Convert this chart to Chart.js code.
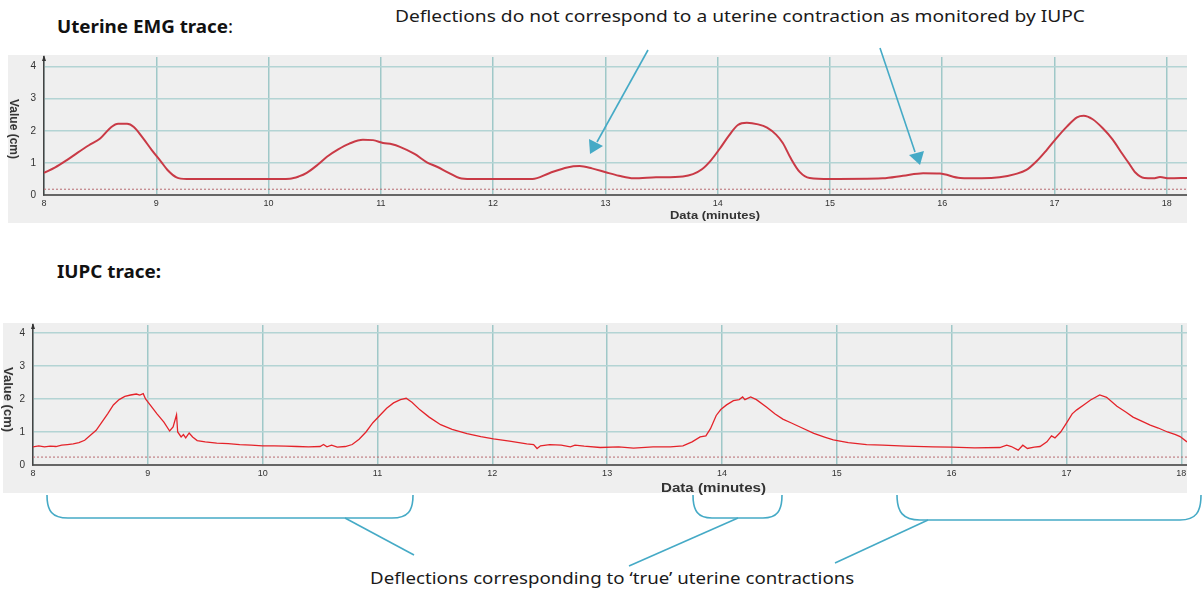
<!DOCTYPE html>
<html lang="en">
<head>
    <meta charset="UTF-8">
    <title>Uterine EMG vs IUPC</title>
    <script src="https://cdn.jsdelivr.net/npm/chart.js"></script>
    <style>
        body { margin: 0; background: #fff; width: 1203px; height: 592px; position: relative; overflow: hidden; font-family: "Noto Sans", sans-serif; }
        .panel { position: absolute; background: #efefef; }
        .txt { position: absolute; white-space: nowrap; transform-origin: left center; color: #111; }
        .heading { font-size: 18px; font-weight: bold; }
        .note { font-size: 17px; color: #1a1a1a; }
        .axis-title { position: absolute; white-space: nowrap; font-family: "Liberation Sans", Arial, sans-serif; font-weight: bold; color: #333; }
        svg.overlay { position: absolute; left: 0; top: 0; pointer-events: none; }
    </style>
</head>
<body>
    <!-- headings -->
    <div class="txt heading" data-fit="176" style="left:57px; top:14px;">Uterine EMG trace<span style="font-weight:normal">:</span></div>
    <div class="txt heading" data-fit="104" style="left:57px; top:259px;">IUPC trace:</div>
    <div class="txt note" data-fit="690" style="left:395px; top:4px;">Deflections do not correspond to a uterine contraction as monitored by IUPC</div>
    <div class="txt note" data-fit="484" style="left:370px; top:566px;">Deflections corresponding to ‘true’ uterine contractions</div>

    <!-- EMG chart -->
    <div class="panel" style="left:8px; top:55px; width:1179px; height:168px;">
        <canvas id="emgChart" width="1179" height="168"></canvas>
    </div>
    <div class="axis-title" style="font-size:12px; left:-16px; top:122px; transform:rotate(90deg);">Value (cm)</div>
    <div class="axis-title" data-fit="90" style="font-size:11px; left:670px; top:209px;">Data (minutes)</div>

    <!-- IUPC chart -->
    <div class="panel" style="left:3px; top:323px; width:1184px; height:170px;">
        <canvas id="iupcChart" width="1184" height="170"></canvas>
    </div>
    <div class="axis-title" style="font-size:13px; left:-24px; top:392px; transform:rotate(90deg);">Value (cm)</div>
    <div class="axis-title" data-fit="105" style="font-size:12px; left:661px; top:481px;">Data (minutes)</div>

    <!-- callouts -->
    <svg class="overlay" width="1203" height="592">
        <g stroke="#45aac6" stroke-width="1.6" fill="none">
            <line x1="648" y1="50" x2="597" y2="142"/>
            <line x1="880" y1="48" x2="915" y2="152"/>
            <path d="M47,495 C47,511 52,518 68,518 L392,518 C408,518 413,511 413,495"/>
            <path d="M693,495 C693,511 698,518 712,518 L763,518 C777,518 782,511 782,495"/>
            <path d="M897,495 C897,512 903,520 920,520 L1180,520 C1196,520 1201,512 1201,495"/>
            <line x1="345" y1="518" x2="414" y2="555"/>
            <line x1="738" y1="518" x2="629" y2="566"/>
            <line x1="928" y1="520" x2="835" y2="563"/>
        </g>
        <g fill="#45aac6">
            <polygon points="590,154 589,139 603,146"/>
            <polygon points="920,165 909,155 924,151"/>
        </g>
    </svg>

    <script>
        // x axis ticks (minutes) and y axis ticks (cm)
        const minuteTicks = [8, 9, 10, 11, 12, 13, 14, 15, 16, 17, 18];
        const valueTicks = [0, 1, 2, 3, 4];
        const baselineLevel = [0.18, 0.24]; // dotted reference line, EMG / IUPC

        // Uterine EMG trace
        const emgMinutes = [8.0, 8.1, 8.2, 8.3, 8.4, 8.5, 8.6, 8.66, 8.74, 8.8, 8.88, 8.96, 9.04, 9.1, 9.18, 9.27, 9.6, 10.0, 10.19, 10.27,
            10.34, 10.44, 10.52, 10.62, 10.72, 10.84, 10.93, 11.02, 11.1, 11.17, 11.3, 11.41, 11.5, 11.6, 11.7, 11.8, 12.0, 12.35, 12.5, 12.66,
            12.77, 12.88, 13.01, 13.12, 13.25, 13.45, 13.69, 13.78, 13.86, 13.94, 14.02, 14.1, 14.18, 14.26, 14.36, 14.44, 14.52, 14.58, 14.65, 14.73,
            14.82, 15.0, 15.47, 15.65, 15.83, 15.98, 16.16, 16.35, 16.51, 16.65, 16.75, 16.84, 16.93, 17.02, 17.11, 17.2, 17.26, 17.34, 17.43, 17.52,
            17.6, 17.66, 17.72, 17.8, 17.88, 17.94, 18.02, 18.18];
        const emgValue = [0.69, 0.86, 1.08, 1.32, 1.55, 1.76, 2.12, 2.22, 2.22, 2.12, 1.78, 1.40, 1.05, 0.78, 0.55, 0.5, 0.5, 0.5, 0.51, 0.58,
            0.69, 0.95, 1.19, 1.42, 1.6, 1.72, 1.71, 1.62, 1.58, 1.5, 1.28, 1.02, 0.88, 0.7, 0.53, 0.5, 0.5, 0.5, 0.68, 0.86,
            0.9, 0.83, 0.7, 0.6, 0.52, 0.55, 0.58, 0.65, 0.8, 1.08, 1.45, 1.85, 2.18, 2.25, 2.2, 2.1, 1.88, 1.62, 1.15, 0.72,
            0.53, 0.5, 0.52, 0.6, 0.68, 0.67, 0.53, 0.52, 0.55, 0.65, 0.78, 1.05, 1.4, 1.78, 2.13, 2.42, 2.47, 2.36, 2.08, 1.72,
            1.3, 1.0, 0.7, 0.53, 0.52, 0.56, 0.52, 0.53];

        // IUPC trace
        const iupcMinutes = [8.0, 8.05, 8.1, 8.15, 8.2, 8.25, 8.3, 8.35, 8.4, 8.45, 8.5, 8.55, 8.6, 8.65, 8.7, 8.75, 8.8, 8.85, 8.9, 8.93,
            8.96, 8.98, 9.02, 9.08, 9.14, 9.19, 9.22, 9.25, 9.26, 9.29, 9.31, 9.33, 9.36, 9.39, 9.43, 9.5, 9.6, 9.7, 9.8, 9.9,
            10.0, 10.1, 10.2, 10.3, 10.4, 10.5, 10.53, 10.56, 10.6, 10.65, 10.72, 10.78, 10.84, 10.9, 10.96, 11.02, 11.08, 11.14, 11.2, 11.25,
            11.3, 11.37, 11.45, 11.55, 11.65, 11.78, 11.9, 12.01, 12.15, 12.3, 12.36, 12.39, 12.42, 12.5, 12.6, 12.68, 12.72, 12.8, 12.94, 13.1,
            13.23, 13.4, 13.55, 13.66, 13.74, 13.81, 13.86, 13.9, 13.95, 13.99, 14.04, 14.1, 14.15, 14.18, 14.2, 14.25, 14.3, 14.39, 14.46, 14.53,
            14.6, 14.68, 14.8, 14.9, 14.97, 15.1, 15.26, 15.4, 15.6, 15.84, 16.0, 16.2, 16.42, 16.48, 16.52, 16.58, 16.62, 16.66, 16.72, 16.77,
            16.83, 16.87, 16.9, 16.95, 17.0, 17.05, 17.09, 17.15, 17.21, 17.29, 17.35, 17.44, 17.52, 17.58, 17.66, 17.73, 17.8, 17.88, 17.95, 17.99,
            18.05];
        const iupcValue = [0.55, 0.58, 0.55, 0.57, 0.56, 0.6, 0.62, 0.64, 0.68, 0.75, 0.9, 1.05, 1.3, 1.55, 1.82, 1.98, 2.08, 2.12, 2.15, 2.12,
            2.16, 2.0, 1.82, 1.55, 1.3, 1.03, 1.15, 1.52, 1.0, 0.85, 0.92, 0.82, 0.97, 0.85, 0.74, 0.7, 0.66, 0.65, 0.62, 0.6,
            0.58, 0.58, 0.57, 0.56, 0.55, 0.56, 0.62, 0.55, 0.6, 0.54, 0.56, 0.62, 0.78, 1.0, 1.28, 1.5, 1.72, 1.88, 1.98, 2.02,
            1.9, 1.67, 1.45, 1.22, 1.08, 0.95, 0.86, 0.79, 0.72, 0.64, 0.62, 0.5, 0.58, 0.62, 0.6, 0.55, 0.6, 0.57, 0.53, 0.55,
            0.51, 0.55, 0.55, 0.58, 0.7, 0.85, 0.88, 1.1, 1.5, 1.68, 1.82, 1.95, 1.98, 2.06, 1.98, 2.06, 1.98, 1.75, 1.55, 1.39,
            1.28, 1.15, 0.96, 0.84, 0.76, 0.68, 0.62, 0.6, 0.57, 0.55, 0.54, 0.52, 0.53, 0.6, 0.56, 0.45, 0.6, 0.5, 0.54, 0.56,
            0.7, 0.88, 0.82, 1.0, 1.27, 1.55, 1.67, 1.82, 1.97, 2.12, 2.05, 1.78, 1.6, 1.45, 1.32, 1.21, 1.12, 1.0, 0.92, 0.86,
            0.7];

        // small arrow at the top of the value axis
        const axisArrow = {
            id: 'axisArrow',
            afterDraw(chart) {
                const ctx = chart.ctx, a = chart.chartArea;
                ctx.save();
                ctx.fillStyle = '#333';
                ctx.beginPath();
                ctx.moveTo(a.left, a.top - 2);
                ctx.lineTo(a.left - 2, a.top + 4);
                ctx.lineTo(a.left + 2, a.top + 4);
                ctx.closePath();
                ctx.fill();
                ctx.restore();
            }
        };

        // no automatic label padding: the plot area must sit where the reference has it
        function noPad(s) {
            s.paddingTop = 0; s.paddingBottom = 0; s.paddingLeft = 0; s.paddingRight = 0;
        }

        function traceChart(id, xs, ys, cfg) {
            const pts = xs.map((x, i) => ({ x: x, y: ys[i] }));
            const base = [{ x: 8, y: cfg.base }, { x: cfg.xMax, y: cfg.base }];
            return new Chart(document.getElementById(id), {
                type: 'line',
                data: {
                    datasets: [{
                        data: pts,
                        borderColor: cfg.color,
                        borderWidth: cfg.width,
                        pointRadius: 0,
                        tension: cfg.smooth ? 0.4 : 0,
                        cubicInterpolationMode: cfg.smooth ? 'monotone' : 'default'
                    }, {
                        data: base,
                        borderColor: '#b86a70',
                        borderWidth: 1,
                        borderDash: [2, 2],
                        pointRadius: 0
                    }]
                },
                options: {
                    responsive: false,
                    animation: false,
                    layout: { padding: { top: 2, right: 0, left: 0, bottom: 0 } },
                    plugins: { legend: { display: false }, tooltip: { enabled: false } },
                    scales: {
                        x: {
                            type: 'linear',
                            min: 8,
                            max: cfg.xMax,
                            afterBuildTicks: s => { s.ticks = minuteTicks.map(v => ({ value: v })); },
                            afterFit: s => { s.height = 28; noPad(s); },
                            grid: { color: '#9fc8c8', lineWidth: 1.5, drawTicks: false },
                            border: { color: '#666', width: 2 },
                            ticks: { padding: 3, color: '#333', font: { family: 'Liberation Sans', size: 9 }, maxRotation: 0 }
                        },
                        y: {
                            min: 0,
                            max: cfg.yMax,
                            afterBuildTicks: s => { s.ticks = valueTicks.map(v => ({ value: v })); },
                            afterFit: s => { s.width = cfg.yWidth; noPad(s); },
                            grid: { color: '#b3d4d4', lineWidth: 1.5, drawTicks: false },
                            border: { color: '#444', width: 1.5 },
                            ticks: { padding: 8, color: '#333', font: { family: 'Liberation Sans', size: 10 } }
                        }
                    }
                },
                plugins: [axisArrow]
            });
        }

        traceChart('emgChart', emgMinutes, emgValue, {
            xMax: 18.18, yMax: 4.3, yWidth: 36, base: baselineLevel[0],
            color: '#c93a46', width: 2, smooth: true
        });
        traceChart('iupcChart', iupcMinutes, iupcValue, {
            xMax: 18.05, yMax: 4.24, yWidth: 30, base: baselineLevel[1],
            color: '#e4232a', width: 1.3, smooth: false
        });

        // squeeze text blocks to the widths they take in the reference
        document.querySelectorAll('[data-fit]').forEach(el => {
            const w = el.getBoundingClientRect().width;
            const target = parseFloat(el.dataset.fit);
            if (w > 0) el.style.transform = 'scaleX(' + (target / w).toFixed(3) + ')';
            el.style.transformOrigin = 'left center';
        });
    </script>
</body>
</html>
